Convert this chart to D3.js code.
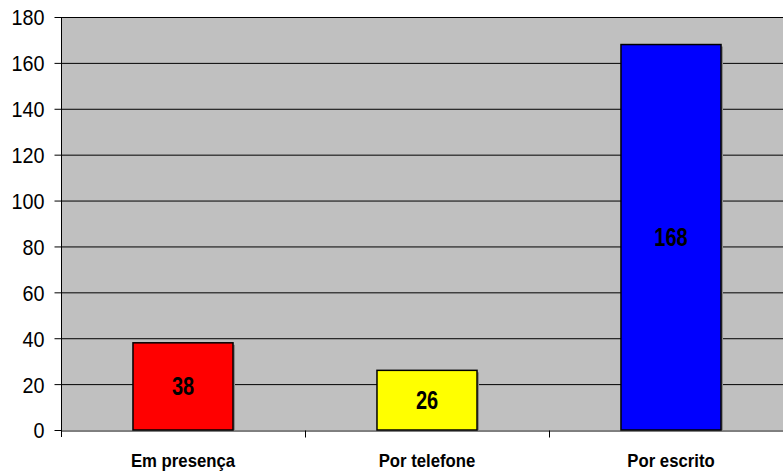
<!DOCTYPE html>
<html>
  <head>
    <style>
      body { margin: 0; background: #fff; }
      .ylab { font-family: 'Liberation Sans', Arial, sans-serif; font-size: 22px; fill: #000; }
      .xlab { font-family: 'Liberation Sans', Arial, sans-serif; font-size: 18px; font-weight: bold; fill: #000; }
      .val { font-family: 'Liberation Sans', Arial, sans-serif; font-size: 25px; font-weight: bold; fill: #000; }
    </style>
  </head>
  <body>
    <script src="https://d3js.org/d3.v7.min.js"></script>
    <script>
      var categories = ["Em presença", "Por telefone", "Por escrito"];
      var values = [38, 26, 168];
      var colors = ["#ff0000", "#ffff00", "#0000ff"];
      var yTicks = [0, 20, 40, 60, 80, 100, 120, 140, 160, 180];

      var width = 783, height = 472;
      var plotLeft = 61, plotTop = 17, plotBottom = 430, plotRight = 793;

      var svg = d3.select("body").append("svg")
        .attr("width", width)
        .attr("height", height);

      var x = d3.scaleBand().domain(categories).range([plotLeft, plotRight]);
      var y = d3.scaleLinear().domain([0, 180]).range([plotBottom, plotTop]);

      svg.append("rect")
        .attr("x", plotLeft).attr("y", plotTop)
        .attr("width", plotRight - plotLeft).attr("height", plotBottom - plotTop)
        .attr("fill", "#c0c0c0");

      // gridlines
      svg.append("g").selectAll("line")
        .data(yTicks.slice(1))
        .enter().append("line")
        .attr("x1", plotLeft).attr("x2", plotRight)
        .attr("y1", function(d) { return y(d) + 0.5; })
        .attr("y2", function(d) { return y(d) + 0.5; })
        .attr("stroke", "#000").attr("stroke-width", 1);

      var bw = x.bandwidth() * 0.41;

      // shadows
      svg.append("g").selectAll("rect")
        .data(values)
        .enter().append("rect")
        .attr("x", function(d, i) { return x(categories[i]) + (x.bandwidth() - bw) / 2 + 2; })
        .attr("y", function(d) { return y(d) + 2; })
        .attr("width", bw)
        .attr("height", function(d) { return plotBottom - y(d) - 2; })
        .attr("fill", "#8a8a8a");

      svg.append("g").selectAll("rect")
        .data(values)
        .enter().append("rect")
        .attr("x", function(d, i) { return x(categories[i]) + (x.bandwidth() - bw) / 2; })
        .attr("y", function(d) { return y(d); })
        .attr("width", bw)
        .attr("height", function(d) { return plotBottom - y(d); })
        .attr("fill", function(d, i) { return colors[i]; })
        .attr("stroke", "#000").attr("stroke-width", 1.5);

      // value labels, narrowed like Arial Narrow
      svg.append("g").selectAll("text")
        .data(values)
        .enter().append("text")
        .attr("class", "val")
        .attr("text-anchor", "middle")
        .attr("dy", "0.36em")
        .attr("transform", function(d, i) {
          var cx = x(categories[i]) + x.bandwidth() / 2;
          var cy = (y(d) + plotBottom) / 2;
          return "translate(" + cx + "," + cy + ") scale(0.8,1)";
        })
        .text(function(d) { return d; });

      var yAxis = svg.append("g")
        .attr("transform", "translate(" + (plotLeft + 0.5) + ",0)")
        .call(d3.axisLeft(y).tickValues(yTicks).tickSize(7));
      yAxis.select(".domain").remove();
      yAxis.selectAll(".tick line").attr("stroke", "#000");
      yAxis.selectAll(".tick text")
        .attr("class", "ylab")
        .attr("x", null)
        .attr("dy", "0.36em")
        .attr("transform", "translate(-17,0) scale(0.9,1)");
      yAxis.append("line")
        .attr("x1", 0).attr("x2", 0)
        .attr("y1", plotTop).attr("y2", plotBottom + 7)
        .attr("stroke", "#000");

      var xAxis = svg.append("g")
        .attr("transform", "translate(0," + (plotBottom + 0.5) + ")")
        .call(d3.axisBottom(x).tickSize(0));
      xAxis.select(".domain").attr("stroke", "#000");
      xAxis.selectAll(".tick text")
        .attr("class", "xlab")
        .attr("y", null)
        .attr("dy", null)
        .attr("transform", "translate(0,36) scale(0.93,1)");
      // category boundary ticks
      xAxis.append("g").selectAll("line")
        .data(categories.slice(1))
        .enter().append("line")
        .attr("x1", function(d) { return Math.round(x(d)) + 0.5; })
        .attr("x2", function(d) { return Math.round(x(d)) + 0.5; })
        .attr("y1", 0).attr("y2", 7)
        .attr("stroke", "#000");
    </script>
  </body>
</html>
